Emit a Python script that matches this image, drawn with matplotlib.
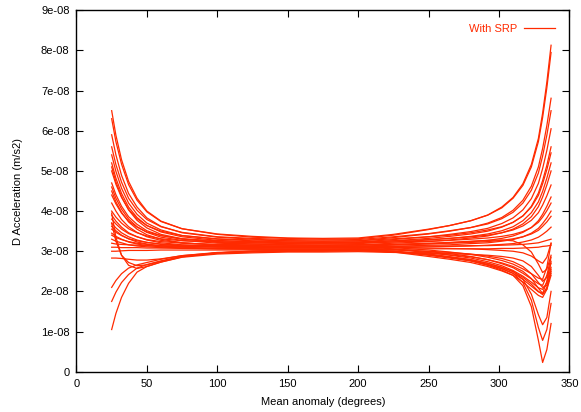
import numpy as np
import matplotlib
matplotlib.use("Agg")
import matplotlib.pyplot as plt
from matplotlib.ticker import FuncFormatter, MultipleLocator

plt.rcParams['font.family'] = ['Liberation Sans', 'DejaVu Sans']

# mean anomaly sample points (degrees), split in three arcs
anomaly_left = [25, 28, 32, 37, 43, 50, 60, 75, 100, 125]
anomaly_mid = [150, 175, 200]
anomaly_right = [225, 250, 265, 280, 292, 302, 310, 317, 323, 328, 331, 334, 337]

# acceleration values in units of 1e-8 m/s2, one row per run
left_arc = [
    [6.50, 5.89, 5.28, 4.74, 4.32, 4.00, 3.75, 3.56, 3.42, 3.35],
    [6.30, 5.73, 5.17, 4.66, 4.27, 3.98, 3.74, 3.56, 3.43, 3.37],
    [5.90, 5.40, 4.89, 4.44, 4.10, 3.83, 3.62, 3.46, 3.35, 3.30],
    [5.60, 5.16, 4.72, 4.32, 4.02, 3.79, 3.61, 3.47, 3.36, 3.32],
    [5.40, 4.99, 4.57, 4.20, 3.92, 3.70, 3.53, 3.39, 3.30, 3.26],
    [5.20, 4.82, 4.44, 4.10, 3.84, 3.64, 3.48, 3.36, 3.27, 3.23],
    [5.00, 4.67, 4.34, 4.04, 3.81, 3.64, 3.50, 3.39, 3.31, 3.28],
    [4.70, 4.41, 4.12, 3.86, 3.67, 3.51, 3.39, 3.30, 3.24, 3.21],
    [4.60, 4.32, 4.05, 3.80, 3.61, 3.47, 3.35, 3.27, 3.20, 3.18],
    [4.40, 4.18, 3.95, 3.75, 3.60, 3.48, 3.39, 3.31, 3.26, 3.24],
    [4.20, 4.00, 3.79, 3.61, 3.47, 3.36, 3.27, 3.21, 3.16, 3.14],
    [4.00, 3.85, 3.70, 3.56, 3.46, 3.38, 3.31, 3.26, 3.23, 3.21],
    [3.90, 3.75, 3.60, 3.46, 3.36, 3.28, 3.21, 3.16, 3.13, 3.11],
    [3.80, 3.68, 3.55, 3.44, 3.36, 3.29, 3.24, 3.20, 3.17, 3.16],
    [3.70, 3.58, 3.46, 3.36, 3.28, 3.22, 3.17, 3.13, 3.10, 3.09],
    [3.55, 3.47, 3.39, 3.31, 3.26, 3.22, 3.18, 3.15, 3.14, 3.13],
    [3.45, 3.37, 3.30, 3.23, 3.18, 3.14, 3.11, 3.08, 3.06, 3.06],
    [3.40, 3.34, 3.29, 3.24, 3.20, 3.17, 3.14, 3.12, 3.11, 3.11],
    [3.30, 3.25, 3.21, 3.16, 3.13, 3.11, 3.09, 3.07, 3.06, 3.05],
    [3.20, 3.18, 3.17, 3.16, 3.15, 3.14, 3.13, 3.13, 3.12, 3.12],
    [3.10, 3.10, 3.09, 3.09, 3.09, 3.08, 3.08, 3.08, 3.08, 3.08],
    [3.00, 3.00, 3.01, 3.02, 3.02, 3.02, 3.03, 3.03, 3.03, 3.03],
    [4.50, 4.23, 3.97, 3.73, 3.55, 3.41, 3.30, 3.21, 3.15, 3.12],
    [5.10, 4.73, 4.36, 4.03, 3.77, 3.58, 3.42, 3.31, 3.22, 3.18],
    [3.62, 3.51, 3.40, 3.31, 3.23, 3.18, 3.13, 3.10, 3.07, 3.06],
    [3.95, 3.35, 2.90, 2.65, 2.57, 2.62, 2.73, 2.86, 2.96, 3.00],
    [3.70, 3.25, 2.90, 2.72, 2.64, 2.66, 2.75, 2.87, 2.96, 2.99],
    [2.83, 2.83, 2.82, 2.80, 2.78, 2.78, 2.81, 2.89, 2.97, 3.00],
    [2.10, 2.27, 2.44, 2.58, 2.66, 2.72, 2.80, 2.89, 2.96, 3.00],
    [1.75, 1.98, 2.22, 2.42, 2.58, 2.67, 2.76, 2.87, 2.95, 2.98],
    [1.05, 1.45, 1.85, 2.20, 2.48, 2.62, 2.73, 2.85, 2.93, 2.96],
]

mid_arc = [
    [3.32, 3.30, 3.31], [3.33, 3.32, 3.33], [3.26, 3.25, 3.26], [3.29, 3.28, 3.29],
    [3.23, 3.22, 3.23], [3.21, 3.20, 3.21], [3.26, 3.25, 3.26], [3.19, 3.18, 3.19],
    [3.16, 3.15, 3.16], [3.23, 3.22, 3.23], [3.13, 3.12, 3.13], [3.20, 3.20, 3.21],
    [3.10, 3.10, 3.11], [3.15, 3.15, 3.16], [3.08, 3.08, 3.09], [3.12, 3.12, 3.13],
    [3.05, 3.05, 3.06], [3.10, 3.10, 3.11], [3.05, 3.05, 3.06], [3.12, 3.12, 3.13],
    [3.08, 3.08, 3.09], [3.03, 3.03, 3.04], [3.10, 3.10, 3.11], [3.16, 3.15, 3.16],
    [3.05, 3.05, 3.06], [3.02, 3.02, 3.03], [3.00, 3.01, 3.02], [3.02, 3.02, 3.03],
    [3.02, 3.02, 3.03], [3.00, 3.00, 3.01], [2.98, 2.98, 2.99],
]

right_arc = [
    [3.40, 3.54, 3.64, 3.76, 3.90, 4.10, 4.34, 4.68, 5.16, 5.81, 6.44, 7.21, 8.13],
    [3.42, 3.55, 3.64, 3.76, 3.90, 4.08, 4.32, 4.64, 5.10, 5.73, 6.33, 7.07, 7.95],
    [3.34, 3.43, 3.50, 3.59, 3.70, 3.84, 4.02, 4.27, 4.62, 5.10, 5.56, 6.13, 6.81],
    [3.36, 3.44, 3.51, 3.59, 3.68, 3.81, 3.97, 4.20, 4.52, 4.95, 5.37, 5.89, 6.50],
    [3.29, 3.36, 3.42, 3.49, 3.57, 3.69, 3.83, 4.03, 4.31, 4.69, 5.06, 5.51, 6.05],
    [3.26, 3.32, 3.37, 3.43, 3.50, 3.60, 3.72, 3.88, 4.12, 4.45, 4.76, 5.14, 5.60],
    [3.31, 3.36, 3.40, 3.46, 3.53, 3.61, 3.72, 3.88, 4.10, 4.39, 4.68, 5.03, 5.45],
    [3.23, 3.28, 3.32, 3.37, 3.43, 3.51, 3.61, 3.76, 3.96, 4.23, 4.49, 4.82, 5.20],
    [3.20, 3.24, 3.28, 3.33, 3.38, 3.46, 3.55, 3.68, 3.86, 4.11, 4.35, 4.65, 5.00],
    [3.26, 3.29, 3.32, 3.36, 3.40, 3.46, 3.53, 3.63, 3.77, 3.96, 4.15, 4.38, 4.65],
    [3.15, 3.18, 3.21, 3.24, 3.27, 3.32, 3.38, 3.47, 3.59, 3.76, 3.92, 4.12, 4.35],
    [3.23, 3.25, 3.27, 3.30, 3.33, 3.37, 3.42, 3.49, 3.59, 3.72, 3.85, 4.01, 4.20],
    [3.12, 3.15, 3.16, 3.19, 3.21, 3.25, 3.29, 3.36, 3.45, 3.57, 3.69, 3.83, 4.00],
    [3.17, 3.19, 3.20, 3.22, 3.24, 3.27, 3.31, 3.36, 3.43, 3.52, 3.62, 3.73, 3.87],
    [3.09, 3.11, 3.12, 3.13, 3.15, 3.17, 3.19, 3.23, 3.28, 3.35, 3.42, 3.50, 3.60],
    [3.12, 3.13, 3.13, 3.14, 3.14, 3.15, 3.16, 3.17, 3.19, 3.21, 3.24, 3.27, 3.30],
    [3.05, 3.06, 3.06, 3.06, 3.06, 3.07, 3.07, 3.08, 3.09, 3.10, 3.12, 3.13, 3.15],
    [3.06, 2.99, 2.94, 2.87, 2.79, 2.69, 2.59, 2.45, 2.31, 2.19, 2.15, 2.40, 2.85],
    [3.00, 2.92, 2.85, 2.76, 2.65, 2.53, 2.40, 2.23, 2.05, 1.90, 1.85, 2.05, 2.55],
    [3.09, 3.03, 2.98, 2.92, 2.85, 2.77, 2.68, 2.56, 2.44, 2.33, 2.30, 2.60, 3.20],
    [3.04, 2.97, 2.90, 2.83, 2.74, 2.64, 2.52, 2.38, 2.23, 2.09, 2.05, 2.22, 2.60],
    [2.99, 2.91, 2.85, 2.77, 2.67, 2.57, 2.45, 2.30, 2.13, 1.99, 1.95, 2.25, 2.75],
    [3.10, 3.08, 3.07, 3.06, 3.04, 3.02, 3.00, 2.96, 2.88, 2.76, 2.70, 2.85, 3.20],
    [3.17, 3.20, 3.22, 3.25, 3.27, 3.28, 3.26, 3.16, 2.98, 2.68, 2.47, 2.55, 2.90],
    [3.03, 3.00, 2.97, 2.93, 2.88, 2.82, 2.74, 2.62, 2.44, 2.22, 2.10, 2.15, 2.45],
    [2.98, 2.87, 2.80, 2.72, 2.62, 2.51, 2.40, 2.14, 1.62, 0.78, 0.23, 0.55, 1.20],
    [3.00, 2.90, 2.83, 2.76, 2.66, 2.56, 2.45, 2.22, 1.78, 1.10, 0.78, 1.05, 1.70],
    [3.00, 2.93, 2.86, 2.79, 2.70, 2.60, 2.50, 2.30, 1.93, 1.42, 1.17, 1.35, 2.00],
    [2.98, 2.92, 2.86, 2.79, 2.70, 2.60, 2.49, 2.35, 2.18, 2.00, 1.92, 2.10, 2.50],
    [2.98, 2.95, 2.91, 2.86, 2.79, 2.71, 2.62, 2.50, 2.32, 2.08, 1.95, 2.05, 2.40],
    [2.97, 2.96, 2.94, 2.92, 2.90, 2.87, 2.83, 2.76, 2.62, 2.40, 2.25, 2.35, 2.70],
]

line_color = '#ff2a00'

fig = plt.figure(figsize=(5.81, 4.12), dpi=100)
ax = fig.add_axes([0.1316, 0.0978, 0.8484, 0.8772])

x = np.array(anomaly_left + anomaly_mid + anomaly_right)
for i in range(len(left_arc)):
    y = np.array(left_arc[i] + mid_arc[i] + right_arc[i]) * 1e-8
    ax.plot(x, y, color=line_color, lw=0.9, label='With SRP' if i == 0 else None)

ax.set_xlim(0, 350)
ax.set_ylim(0, 9e-8)
ax.xaxis.set_major_locator(MultipleLocator(50))
ax.yaxis.set_major_locator(MultipleLocator(1e-8))
ax.yaxis.set_major_formatter(FuncFormatter(lambda v, p: '0' if abs(v) < 1e-12 else f'{v:.0e}'))

ax.tick_params(direction='in', length=5, width=0.8, top=True, right=True,
               labelsize=8, colors='black')
ax.tick_params(axis='x', pad=5)
ax.tick_params(axis='y', pad=5)
for s in ax.spines.values():
    s.set_linewidth(1.0)

ax.set_xlabel('Mean anomaly (degrees)', fontsize=8, labelpad=6)
ax.set_ylabel('D Acceleration (m/s2)', fontsize=8, labelpad=13)

ax.legend(loc='upper right', frameon=False, markerfirst=False, fontsize=8,
          labelcolor=line_color, handlelength=2.8, borderaxespad=0.85,
          handletextpad=0.6)

fig.savefig('out.png', dpi=100)
